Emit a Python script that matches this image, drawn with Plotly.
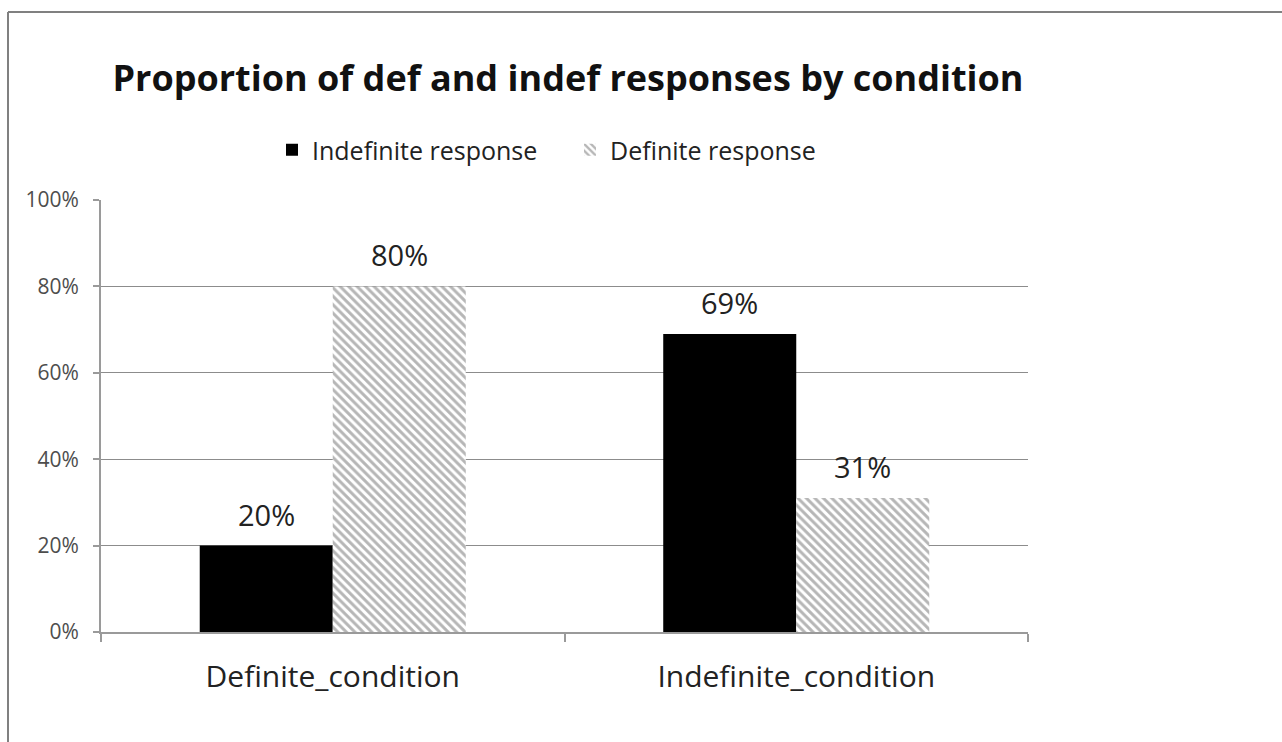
import plotly.graph_objects as go

# Chart data
conditions = ["Definite_condition", "Indefinite_condition"]
indefinite_response = [20, 69]
definite_response = [80, 31]
y_ticks = [0, 20, 40, 60, 80, 100]
y_tick_labels = ["0%", "20%", "40%", "60%", "80%", "100%"]

FONT = "Open Sans"
W, H = 1282, 742
ML, MR, MT, MB = 101, 254, 200, 110
PW, PH = W - ML - MR, H - MT - MB


def px_x(x):
    return (x - ML) / PW


def px_y(y):
    return (H - MB - y) / PH


fig = go.Figure()
fig.add_trace(go.Bar(
    name="Indefinite response",
    x=conditions, y=indefinite_response,
    marker=dict(color="#000000", line=dict(width=0)),
))
fig.add_trace(go.Bar(
    name="Definite response",
    x=conditions, y=definite_response,
    marker=dict(
        color="#ffffff",
        line=dict(width=0),
        pattern=dict(shape="\\", fgcolor="#6e6e6e", bgcolor="#ffffff",
                     size=6, solidity=0.5),
    ),
))

# value labels above each bar
offsets = [-0.1435, 0.1435]
for series, off in zip([indefinite_response, definite_response], offsets):
    for i, v in enumerate(series):
        fig.add_annotation(
            x=i + off, y=v, xref="x", yref="y",
            text=f"{v}%", showarrow=False,
            yanchor="bottom", yshift=10,
            font=dict(family=FONT, size=29, color="#222222"),
        )

# outer frame of the chart
frame = dict(color="#808080", width=2)
fig.add_shape(type="line", xref="paper", yref="paper",
              x0=px_x(8), x1=px_x(W + 5), y0=px_y(12), y1=px_y(12), line=frame)
fig.add_shape(type="line", xref="paper", yref="paper",
              x0=px_x(8), x1=px_x(8), y0=px_y(12), y1=px_y(H + 5), line=frame)

fig.update_layout(
    width=W, height=H,
    margin=dict(l=ML, r=MR, t=MT, b=MB),
    paper_bgcolor="#ffffff", plot_bgcolor="#ffffff",
    barmode="group", bargap=0.426, bargroupgap=0,
    title=dict(
        text="<b>Proportion of def and indef responses by condition</b>",
        x=px_x(568), xanchor="center", xref="paper",
        y=1 - 78 / H, yanchor="middle",
        font=dict(family=FONT, size=36, color="#111111"),
    ),
    legend=dict(
        orientation="h", x=px_x(272), xanchor="left",
        y=px_y(150), yanchor="middle",
        font=dict(family=FONT, size=25, color="#222222"),
        itemwidth=30, traceorder="normal",
        entrywidth=253, entrywidthmode="pixels",
    ),
    font=dict(family=FONT),
)
fig.update_xaxes(
    showline=True, linecolor="#9a9a9a", linewidth=2,
    ticks="outside", tickson="boundaries", ticklen=8,
    tickcolor="#9a9a9a", tickwidth=2,
    tickfont=dict(family=FONT, size=30, color="#222222"),
    ticklabelstandoff=17,
    showgrid=False,
)
fig.update_yaxes(
    range=[0, 100], tickvals=y_ticks, ticktext=y_tick_labels,
    showline=True, linecolor="#9a9a9a", linewidth=2,
    ticks="outside", ticklen=6, tickcolor="#9a9a9a", tickwidth=2,
    showgrid=True, gridcolor="#8c8c8c", gridwidth=1,
    tickfont=dict(family=FONT, size=21, color="#4d4d4d"),
    ticklabelstandoff=10,
    zeroline=False,
)

fig.write_html("out.html")
